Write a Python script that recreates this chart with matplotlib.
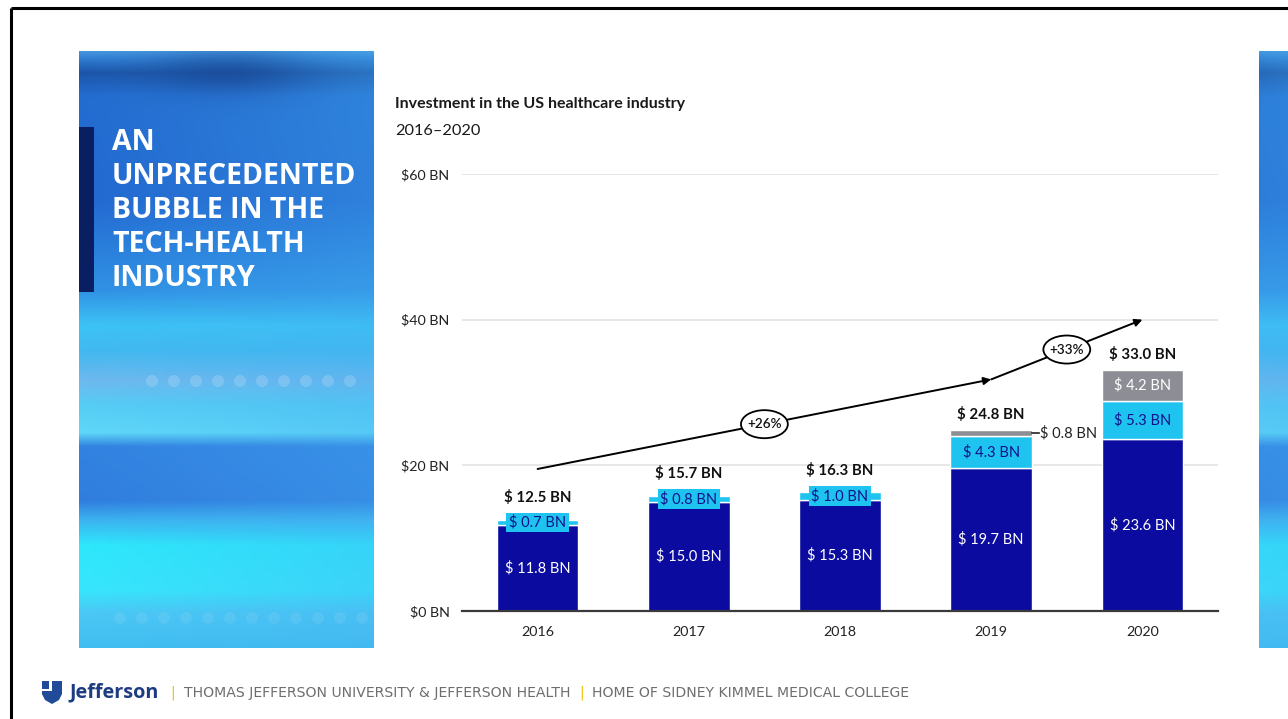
import numpy as np
import matplotlib
matplotlib.use("Agg")
import matplotlib.pyplot as plt
from matplotlib.patches import Rectangle, Polygon, Circle, Ellipse

# ---- data -------------------------------------------------------------
years = ["2016", "2017", "2018", "2019", "2020"]
core_bn = [11.8, 15.0, 15.3, 19.7, 23.6]
digital_bn = [0.7, 0.8, 1.0, 4.3, 5.3]
other_bn = [0.0, 0.0, 0.0, 0.8, 4.2]
total_bn = [12.5, 15.7, 16.3, 24.8, 33.0]
y_ticks = [0, 20, 40, 60]
trend_idx = [0, 3, 4]
trend_bn = [19.5, 31.8, 40.0]
growth_labels = ["+26%", "+33%"]

title_lines = ["AN", "UNPRECEDENTED", "BUBBLE IN THE", "TECH-HEALTH", "INDUSTRY"]

# ---- style ------------------------------------------------------------
DARK = "#0b0ba0"
LIGHT = "#1fc3ef"
GRAY = "#8d8d96"
NAVY_TXT = "#12128a"
CHART_FONT = "Lato"

W, H = 1288, 719
fig = plt.figure(figsize=(W / 100, H / 100), dpi=100)
fig.patch.set_facecolor("white")


def fx(px):
    return px / W


def fy(py):
    return 1 - py / H


def rect(x0, y0, x1, y1):
    return [fx(x0), fy(y1), fx(x1) - fx(x0), fy(y0) - fy(y1)]


# pixel-space overlay for the slide decoration
ov = fig.add_axes([0, 0, 1, 1], zorder=0)
ov.set_axis_off()


def panel_image(h, w, x_shift, x_span):
    ys = np.arange(h) + 51
    ky = [51, 60, 72, 95, 200, 290, 325, 350, 380, 405, 432, 446, 500, 520, 545, 590, 612, 648]
    kc = np.array([
        (70, 150, 225), (45, 120, 205), (28, 85, 170), (35, 108, 208), (34, 104, 208),
        (48, 145, 228), (60, 195, 245), (65, 185, 240), (110, 185, 238),
        (85, 205, 245), (95, 215, 248), (50, 130, 225), (48, 125, 222),
        (60, 180, 240), (45, 232, 252), (55, 230, 252), (75, 200, 245),
        (65, 190, 240)]) / 255.0
    col = np.stack([np.interp(ys, ky, kc[:, k]) for k in range(3)], axis=1)
    img = np.repeat(col[:, None, :], w, axis=1)
    xs = (np.arange(w) + x_shift) / x_span
    light = np.array([70, 175, 242]) / 255.0
    wgt = (0.35 * xs)[None, :, None]
    img = img * (1 - wgt) + light[None, None, :] * wgt
    # darker haze near the top edge
    yy, xx = np.mgrid[0:h, 0:w]
    blob = np.exp(-(((xx + x_shift) - 150) / 80.0) ** 2 - ((yy - 20) / 24.0) ** 2)
    img = img * (1 - 0.4 * blob[..., None]) + np.array([15, 45, 120])[None, None, :] / 255.0 * 0.4 * blob[..., None]
    return np.clip(img, 0, 1)


ov.imshow(panel_image(597, 295, 0, 295), extent=(79, 374, 648, 51),
          origin="upper", aspect="auto", interpolation="bilinear", zorder=1)
ov.imshow(panel_image(597, 29, 250, 295), extent=(1259, 1288, 648, 51),
          origin="upper", aspect="auto", interpolation="bilinear", zorder=1)

# row of soft dots across the left panel
for cx in np.arange(152, 370, 22):
    ov.add_patch(Circle((cx, 381), 6, color="white", alpha=0.16, lw=0, zorder=2))
for cx in np.arange(120, 370, 22):
    ov.add_patch(Circle((cx, 618), 6, color="white", alpha=0.08, lw=0, zorder=2))

# accent bar next to the slide title
ov.add_patch(Rectangle((79, 127), 15, 165, color="#0a1e62", lw=0, zorder=3))
for i, line in enumerate(title_lines):
    ov.text(112, 142 + i * 34.2, line, color="white", fontsize=20.5,
            fontfamily="Open Sans", fontweight="bold", va="center", ha="left", zorder=4)

# slide frame
ov.plot([11, W], [8, 8], color="black", lw=2.2, zorder=5, solid_capstyle="butt")
ov.plot([11, 11], [8, H], color="black", lw=2.2, zorder=5, solid_capstyle="butt")

# chart heading
ov.text(395, 104, "Investment in the US healthcare industry", fontsize=11.5,
        fontfamily=CHART_FONT, fontweight="bold", color="#1a1a1a", va="center", ha="left")
ov.text(395, 131, "2016\u20132020", fontsize=11.8, fontfamily=CHART_FONT,
        color="#1a1a1a", va="center", ha="left")

# footer: logo mark and institution line
shield = Polygon([(42, 681), (62, 681), (62, 694), (59, 700), (52, 704),
                  (45, 700), (42, 694)], closed=True, color="#1f4b99", lw=0, zorder=3)
ov.add_patch(shield)
ov.add_patch(Rectangle((49.5, 680), 2.5, 10.5, color="white", lw=0, zorder=4))
ov.add_patch(Rectangle((41, 688.5), 11, 2.2, color="white", lw=0, zorder=4))
ov.text(70, 692, "Jefferson", fontsize=14.3, fontfamily="Open Sans", fontweight="bold",
        color="#1d3c82", va="center", ha="left")
ov.text(173, 693, "|", fontsize=10, color="#f0c000", va="center", ha="center")
ov.text(184, 693, "THOMAS JEFFERSON UNIVERSITY & JEFFERSON HEALTH", fontsize=10.1,
        fontfamily="DejaVu Sans", color="#6e6e6e", va="center", ha="left")
ov.text(582, 693, "|", fontsize=10, color="#f0c000", va="center", ha="center")
ov.text(592, 693, "HOME OF SIDNEY KIMMEL MEDICAL COLLEGE", fontsize=10.1,
        fontfamily="DejaVu Sans", color="#6e6e6e", va="center", ha="left")

ov.set_xlim(0, W)
ov.set_ylim(H, 0)

# ---- chart ------------------------------------------------------------
ax = fig.add_axes(rect(462, 174, 1218, 611), zorder=2)
ax.set_facecolor("none")
ax.set_xlim(-0.5, 4.5)
ax.set_ylim(0, 60)

x = np.arange(len(years))
bw = 0.54
core = np.array(core_bn)
digital = np.array(digital_bn)
other = np.array(other_bn)

ax.bar(x, core, bw, color=DARK, edgecolor="white", linewidth=1, zorder=3)
ax.bar(x, digital, bw, bottom=core, color=LIGHT, edgecolor="white", linewidth=1, zorder=3)
ax.bar(x, other, bw, bottom=core + digital, color=GRAY, edgecolor="white",
       linewidth=[1 if v > 0 else 0 for v in other], zorder=3)

for sp in ["top", "right", "left"]:
    ax.spines[sp].set_visible(False)
ax.spines["bottom"].set_color("#3a3a3a")
ax.spines["bottom"].set_linewidth(1.6)
ax.spines["bottom"].set_zorder(4)

ax.set_yticks(y_ticks)
ax.set_yticklabels([f"${v} BN" for v in y_ticks])
ax.yaxis.grid(True, color="#e3e3e3", lw=1.2)
ax.set_axisbelow(True)
ax.set_xticks(x)
ax.set_xticklabels(years)
ax.tick_params(axis="both", length=0, labelsize=10.3, labelcolor="#222222")
ax.tick_params(axis="y", pad=9)
ax.tick_params(axis="x", pad=11)
for lab in ax.get_xticklabels() + ax.get_yticklabels():
    lab.set_fontfamily(CHART_FONT)

LBL = dict(fontsize=10.5, fontfamily=CHART_FONT, ha="center", va="center", zorder=5)
SMALL = 2.5  # segments thinner than this (BN) carry a boxed or outside label

for i in range(len(years)):
    ax.text(x[i], core[i] / 2, f"$ {core[i]:.1f} BN", color="white", **LBL)

    top = core[i] + digital[i]
    mid = core[i] + digital[i] / 2
    label_top = top
    if digital[i] < SMALL:
        ax.text(x[i], mid, f"$ {digital[i]:.1f} BN", color=NAVY_TXT,
                bbox=dict(boxstyle="square,pad=0.18", fc=LIGHT, ec="none"), **LBL)
        label_top = max(top, mid + 1.25)
    else:
        ax.text(x[i], mid, f"$ {digital[i]:.1f} BN", color=NAVY_TXT, **LBL)

    if other[i] > 0:
        omid = top + other[i] / 2
        if other[i] < SMALL:
            xe = x[i] + bw / 2
            ax.plot([xe, xe + 0.045], [omid, omid], color="#222222", lw=1.2,
                    zorder=5, clip_on=False)
            ax.text(xe + 0.055, omid, f"$ {other[i]:.1f} BN", color="#222222",
                    fontsize=10.5, fontfamily=CHART_FONT, ha="left", va="center",
                    zorder=5, clip_on=False)
        else:
            ax.text(x[i], omid, f"$ {other[i]:.1f} BN", color="white", **LBL)
        label_top = top + other[i]

    ax.annotate(f"$ {total_bn[i]:.1f} BN", xy=(x[i], label_top), xytext=(0, 6),
                textcoords="offset points", ha="center", va="bottom",
                fontsize=10.8, fontweight="bold", fontfamily=CHART_FONT,
                color="#111111", zorder=5, annotation_clip=False)

# growth trend arrows with percentage bubbles
for k in range(len(trend_idx) - 1):
    x0, x1 = trend_idx[k], trend_idx[k + 1]
    y0, y1 = trend_bn[k], trend_bn[k + 1]
    ax.annotate("", xy=(x1, y1), xytext=(x0, y0),
                arrowprops=dict(arrowstyle="-|>", color="black", lw=1.4,
                                mutation_scale=11, shrinkA=0, shrinkB=0),
                zorder=6, annotation_clip=False)
    xm, ym = (x0 + x1) / 2, (y0 + y1) / 2
    ax.add_patch(Ellipse((xm, ym), 0.31, 3.85, fc="white", ec="black", lw=1.3, zorder=7))
    ax.text(xm, ym, growth_labels[k], fontsize=9.8, fontweight="semibold",
            fontfamily=CHART_FONT, ha="center", va="center", color="#111111", zorder=8)

fig.savefig("out.png", dpi=100, facecolor="white")
